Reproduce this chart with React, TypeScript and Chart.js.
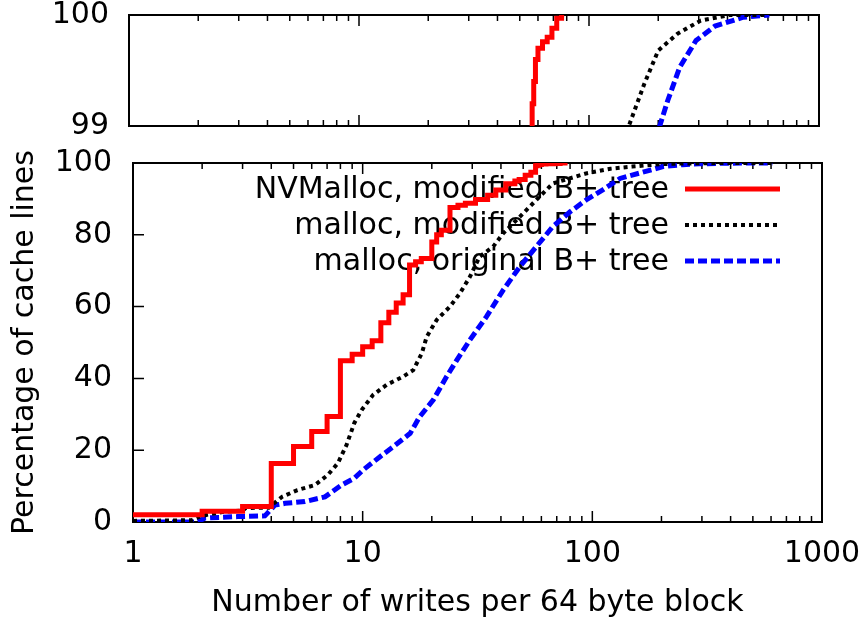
import React, { useEffect, useRef } from "react";
import { Chart, registerables } from "chart.js";

Chart.register(...registerables);

const FONT = '"DejaVu Sans", sans-serif';
const FONT_SIZE = 30;

// ---- tick values / labels ----
const xTickValues = [1, 10, 100, 1000];
const topYTicks = [99, 100];
const bottomYTicks = [0, 20, 40, 60, 80, 100];
const xTitle = "Number of writes per 64 byte block";
const yTitle = "Percentage of cache lines";

// ---- series ----
const seriesLabels = [
  "NVMalloc, modified B+ tree",
  "malloc, modified B+ tree",
  "malloc, original B+ tree",
];

// NVMalloc, modified B+ tree (step CDF: value jumps to y at x)
const nvmX = [1, 2, 3, 4, 5, 6, 7, 8, 9, 10, 11, 12, 13, 14, 15, 16, 17, 18, 20, 21, 22, 24, 26, 28, 31, 35, 38, 42, 46, 48, 51, 54, 56.6, 57.5, 58.5, 60, 62.8, 65.8, 69, 72.4, 76, 78];
const nvmY = [2, 3, 4.3, 16.3, 21, 25.2, 29.4, 44.9, 46.7, 48.8, 50.5, 55.5, 58.4, 61, 63.3, 71.6, 72.5, 73.4, 78, 80, 81.3, 87.6, 88.2, 88.8, 89.8, 91, 92.5, 94.2, 95, 95.4, 96.6, 97.4, 99.2, 99.4, 99.6, 99.7, 99.76, 99.8, 99.88, 99.97, 100, 100];

// malloc, modified B+ tree
const modX = [1, 1.8, 1.95, 2.1, 2.5, 3, 3.1, 3.9, 4.45, 5.2, 6.2, 7.05, 7.8, 8.5, 9.2, 9.9, 11.1, 12.7, 15, 16.6, 18.1, 19, 21, 24, 26.5, 29.3, 32.3, 37, 40.9, 48.3, 57, 67.3, 94, 120, 149, 174, 200, 242, 306, 407, 600];
const modY = [0.3, 0.5, 1.5, 2, 2.9, 3.2, 3.9, 4, 7, 8.9, 10.3, 13.1, 16.4, 21.4, 27.6, 31.2, 35.4, 38.2, 40.5, 42.3, 47, 51.6, 56.3, 60, 63.7, 68.3, 73.9, 76.7, 80.4, 85, 89.7, 94.3, 97.1, 98.4, 99, 99.38, 99.68, 99.83, 99.95, 100, 100];

// malloc, original B+ tree
const origX = [1, 1.9, 2.06, 2.86, 3.75, 4.15, 4.6, 5.6, 6.85, 8.1, 9.2, 10.05, 11.9, 13.6, 16.1, 17.7, 20.3, 23.2, 25.7, 29.3, 34.6, 40.9, 48.3, 57, 67.3, 80, 94, 111, 132, 163, 203, 220, 248, 292, 353, 469, 608];
const origY = [0, 0, 1.1, 1.5, 1.7, 4.7, 5.2, 5.7, 7, 10.3, 12.2, 14.5, 18.2, 21, 24.7, 29.3, 34, 40.5, 45.1, 50.7, 57.2, 64.6, 71.1, 76.7, 82.3, 86.4, 89.7, 92.5, 95.7, 97.3, 99, 99.23, 99.53, 99.77, 99.9, 99.98, 100];

const seriesColors = ["#ff0000", "#000000", "#0000ff"];

const toPoints = (xs: number[], ys: number[]) => xs.map((x, i) => ({ x, y: ys[i] }));

function makeDatasets() {
  return [
    {
      label: seriesLabels[0],
      data: toPoints(nvmX, nvmY),
      borderColor: seriesColors[0],
      borderWidth: 5,
      borderDash: [] as number[],
      stepped: "before" as const,
      pointRadius: 0,
      tension: 0,
    },
    {
      label: seriesLabels[1],
      data: toPoints(modX, modY),
      borderColor: seriesColors[1],
      borderWidth: 4,
      borderDash: [4, 4],
      pointRadius: 0,
      tension: 0,
    },
    {
      label: seriesLabels[2],
      data: toPoints(origX, origY),
      borderColor: seriesColors[2],
      borderWidth: 5,
      borderDash: [9, 4],
      pointRadius: 0,
      tension: 0,
    },
  ];
}

const MINOR_MULT = [2, 3, 4, 5, 6, 7, 8, 9];

const frameTicksPlugin = {
  id: "frameTicks",
  beforeDatasetsDraw(chart: any) {
    const { ctx, chartArea: a, scales } = chart;
    const xs = scales.x;
    const ys = scales.y;
    ctx.save();
    ctx.strokeStyle = "#000";
    ctx.lineWidth = 1.5;
    ctx.beginPath();
    for (let d = 0; d < xTickValues.length; d++) {
      const dec = xTickValues[d];
      const px = xs.getPixelForValue(dec);
      ctx.moveTo(px, a.bottom);
      ctx.lineTo(px, a.bottom - 11);
      ctx.moveTo(px, a.top);
      ctx.lineTo(px, a.top + 11);
      if (d < xTickValues.length - 1) {
        for (const m of MINOR_MULT) {
          const p = xs.getPixelForValue(dec * m);
          ctx.moveTo(p, a.bottom);
          ctx.lineTo(p, a.bottom - 6);
          ctx.moveTo(p, a.top);
          ctx.lineTo(p, a.top + 6);
        }
      }
    }
    for (const t of ys.ticks) {
      const py = ys.getPixelForValue(t.value);
      ctx.moveTo(a.left, py);
      ctx.lineTo(a.left + 11, py);
    }
    ctx.stroke();
    ctx.lineWidth = 2;
    ctx.strokeRect(a.left, a.top, a.right - a.left, a.bottom - a.top);
    ctx.restore();
  },
};

const legendPlugin = {
  id: "customLegend",
  beforeDatasetsDraw(chart: any, _args: any, opts: any) {
    if (!opts || !opts.show) return;
    const { ctx, chartArea: a } = chart;
    ctx.save();
    ctx.font = `${FONT_SIZE}px ${FONT}`;
    ctx.textAlign = "right";
    ctx.textBaseline = "middle";
    chart.data.datasets.forEach((ds: any, i: number) => {
      const y = a.top + 26 + i * 36;
      ctx.fillStyle = "#000";
      ctx.fillText(ds.label, a.right - 153, y + 1);
      ctx.beginPath();
      ctx.strokeStyle = ds.borderColor;
      ctx.lineWidth = ds.borderWidth;
      ctx.setLineDash(ds.borderDash || []);
      ctx.moveTo(a.right - 137, y);
      ctx.lineTo(a.right - 42, y);
      ctx.stroke();
      ctx.setLineDash([]);
    });
    ctx.restore();
  },
};

function baseX(showLabels: boolean) {
  return {
    type: "logarithmic" as const,
    min: 1,
    max: 1000,
    grid: { display: false, drawTicks: false, tickLength: 0 },
    border: { display: false },
    afterBuildTicks: (scale: any) => {
      scale.ticks = xTickValues.map((v) => ({ value: v, major: true }));
    },
    ticks: showLabels
      ? {
          display: true,
          color: "#000",
          font: { family: FONT, size: FONT_SIZE },
          padding: 14,
          maxRotation: 0,
          autoSkip: false,
          callback: (v: any) => String(v),
        }
      : { display: false },
  };
}

export default function App() {
  const topRef = useRef<HTMLCanvasElement | null>(null);
  const botRef = useRef<HTMLCanvasElement | null>(null);

  useEffect(() => {
    const topChart = new Chart(topRef.current as HTMLCanvasElement, {
      type: "line",
      data: { datasets: makeDatasets() as any },
      options: {
        responsive: false,
        animation: false,
        layout: { padding: { left: 0, top: 15, right: 48, bottom: 630 - 126 } },
        plugins: {
          legend: { display: false },
          tooltip: { enabled: false },
          customLegend: { show: false },
        } as any,
        scales: {
          x: {
            ...baseX(false),
            afterFit: (s: any) => {
              s.height = 0;
              s.paddingLeft = 0;
              s.paddingRight = 0;
            },
          } as any,
          y: {
            type: "linear",
            min: 99,
            max: 100,
            grid: { display: false, drawTicks: false, tickLength: 0 },
            border: { display: false },
            afterBuildTicks: (scale: any) => {
              scale.ticks = topYTicks.map((v) => ({ value: v }));
            },
            ticks: {
              color: "#000",
              font: { family: FONT, size: FONT_SIZE },
              padding: 20,
            },
            afterFit: (s: any) => {
              s.width = 129;
              s.paddingTop = 0;
              s.paddingBottom = 0;
            },
          } as any,
        },
      },
      plugins: [frameTicksPlugin, legendPlugin],
    });

    const botChart = new Chart(botRef.current as HTMLCanvasElement, {
      type: "line",
      data: { datasets: makeDatasets() as any },
      options: {
        responsive: false,
        animation: false,
        layout: { padding: { left: 0, top: 163, right: 45, bottom: 0 } },
        plugins: {
          legend: { display: false },
          tooltip: { enabled: false },
          customLegend: { show: true },
        } as any,
        scales: {
          x: {
            ...baseX(true),
            title: {
              display: true,
              text: xTitle,
              color: "#000",
              font: { family: FONT, size: FONT_SIZE },
              padding: { top: 0, bottom: 9 },
            },
            afterFit: (s: any) => {
              s.height = 108;
              s.paddingLeft = 0;
              s.paddingRight = 0;
            },
          } as any,
          y: {
            type: "linear",
            min: 0,
            max: 100,
            grid: { display: false, drawTicks: false, tickLength: 0 },
            border: { display: false },
            afterBuildTicks: (scale: any) => {
              scale.ticks = bottomYTicks.map((v) => ({ value: v }));
            },
            ticks: {
              color: "#000",
              font: { family: FONT, size: FONT_SIZE },
              padding: 21,
            },
            title: {
              display: true,
              text: yTitle,
              color: "#000",
              font: { family: FONT, size: FONT_SIZE },
              padding: { top: 7, bottom: 0 },
            },
            afterFit: (s: any) => {
              s.width = 133;
              s.paddingTop = 0;
              s.paddingBottom = 0;
            },
          } as any,
        },
      },
      plugins: [frameTicksPlugin, legendPlugin],
    });

    return () => {
      topChart.destroy();
      botChart.destroy();
    };
  }, []);

  const canvasStyle: React.CSSProperties = {
    position: "absolute",
    left: 0,
    top: 0,
    width: 867,
    height: 630,
  };

  return (
    <div style={{ position: "absolute", left: 0, top: 0, width: 867, height: 630, background: "#fff" }}>
      <canvas ref={botRef} width={867} height={630} style={canvasStyle} />
      <canvas ref={topRef} width={867} height={630} style={canvasStyle} />
    </div>
  );
}
